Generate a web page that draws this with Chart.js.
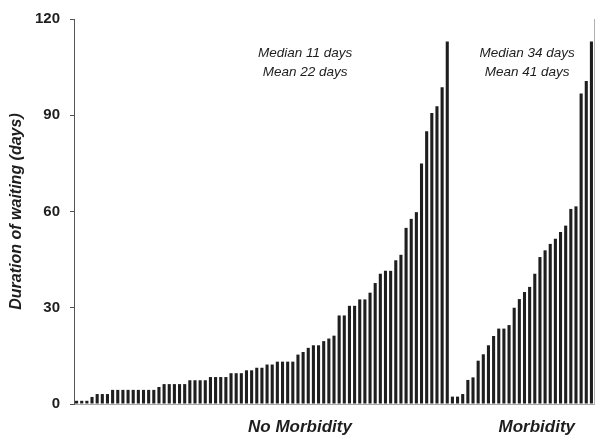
<!DOCTYPE html>
<html>
<head>
<meta charset="utf-8">
<script src="https://cdn.jsdelivr.net/npm/chart.js@4/dist/chart.umd.min.js"></script>
<style>
  html, body { margin: 0; padding: 0; background: #fff; }
  #wrap { width: 595px; height: 438px; }
</style>
</head>
<body>
<div id="wrap"><canvas id="chart" width="595" height="438"></canvas></div>
<script>
// Waiting time per patient, sorted within each group (days)
var noMorbidity = [1, 1, 1, 2.2, 3.1, 3.1, 3.1,
    4.4, 4.4, 4.4, 4.4, 4.4, 4.4, 4.4, 4.4, 4.4,
    5.3, 6.2, 6.2, 6.2, 6.2, 6.2, 7.4, 7.4, 7.4, 7.4,
    8.4, 8.4, 8.4, 8.4, 9.6, 9.6, 9.6, 10.5, 10.5, 11.3, 11.3,
    12.3, 12.3, 13.2, 13.2, 13.2, 13.2, 15.4, 16.2, 17.5, 18.3, 18.3,
    19.6, 20.4, 21.3, 27.6, 27.6, 30.6, 30.6, 32.6, 32.6, 34.7, 37.7,
    40.6, 41.5, 41.5, 44.8, 46.5, 54.9, 57.7, 59.8, 75, 85, 90.7,
    92.8, 98.7, 113];
var morbidity = [2.3, 2.3, 3.1, 7.5, 8.3, 13.5, 15.5, 18.3, 21.2, 23.5,
    23.5, 24.6, 30, 32.7, 34.9, 36.5, 40.6, 45.8, 47.9, 49.9, 51.5,
    53.6, 55.6, 60.8, 61.6, 96.8, 100.7, 113];

var groupNames = ['No Morbidity', 'Morbidity'];
var groupNotes = [['Median 11 days', 'Mean 22 days'], ['Median 34 days', 'Mean 41 days']];
var yTicks = [0, 30, 60, 90, 120];
var yTitle = 'Duration of waiting (days)';

// one category per patient, group name shown under its group
var values = noMorbidity.concat(morbidity);
var labels = values.map(function() { return ''; });
labels[43] = groupNames[0];
labels[noMorbidity.length + 16] = groupNames[1];

var fontFamily = '"Liberation Sans", Arial, sans-serif';
var ink = '#1e1e1e';

// median / mean notes above each group
var notesPlugin = {
    id: 'notes',
    afterDatasetsDraw: function(chart) {
        var ctx = chart.ctx;
        var x = chart.scales.x, y = chart.scales.y;
        var anchors = [[44.4, 109.3, 103.4], [noMorbidity.length + 14.5, 109.3, 103.4]];
        ctx.save();
        ctx.fillStyle = ink;
        ctx.font = 'italic 13.5px ' + fontFamily;
        ctx.textAlign = 'center';
        ctx.textBaseline = 'middle';
        groupNotes.forEach(function(lines, i) {
            var px = x.getPixelForValue(anchors[i][0]);
            ctx.fillText(lines[0], px, y.getPixelForValue(anchors[i][1]));
            ctx.fillText(lines[1], px, y.getPixelForValue(anchors[i][2]));
        });
        ctx.restore();
    }
};

var chart = new Chart(document.getElementById('chart'), {
    type: 'bar',
    data: {
        labels: labels,
        datasets: [{
            data: values,
            backgroundColor: ink,
            borderWidth: 0,
            barPercentage: 0.6,
            categoryPercentage: 1
        }]
    },
    options: {
        responsive: false,
        animation: false,
        layout: { padding: { top: 17, right: 1, bottom: 0, left: 0 } },
        plugins: {
            legend: { display: false },
            tooltip: { enabled: false }
        },
        scales: {
            x: {
                afterFit: function(scale) { scale.height = 34; },
                grid: { display: false, drawTicks: true, tickLength: 11 },
                border: { display: true, color: '#a8a8a8', width: 1 },
                ticks: {
                    autoSkip: false,
                    maxRotation: 0,
                    minRotation: 0,
                    padding: 2,
                    labelOffset: 2,
                    color: ink,
                    font: { family: fontFamily, size: 17, weight: 'bold', style: 'italic' }
                }
            },
            y: {
                min: 0,
                max: 120,
                afterFit: function(scale) { scale.width = 74; },
                afterBuildTicks: function(scale) {
                    scale.ticks = yTicks.map(function(v) { return { value: v }; });
                },
                grid: { drawOnChartArea: false, tickLength: 4, color: '#555' },
                border: { color: '#555', width: 1 },
                ticks: {
                    padding: 10,
                    color: ink,
                    font: { family: fontFamily, size: 15, weight: 'bold' }
                },
                title: {
                    display: true,
                    text: yTitle,
                    color: ink,
                    padding: { top: 7, bottom: 0 },
                    font: { family: fontFamily, size: 16, weight: 'bold', style: 'italic' }
                }
            },
            y2: {
                position: 'right',
                min: 0,
                max: 120,
                afterFit: function(scale) { scale.width = 0; },
                grid: { display: false },
                border: { color: '#b0b0b0', width: 1 },
                ticks: { display: false }
            }
        }
    },
    plugins: [notesPlugin]
});
</script>
</body>
</html>
